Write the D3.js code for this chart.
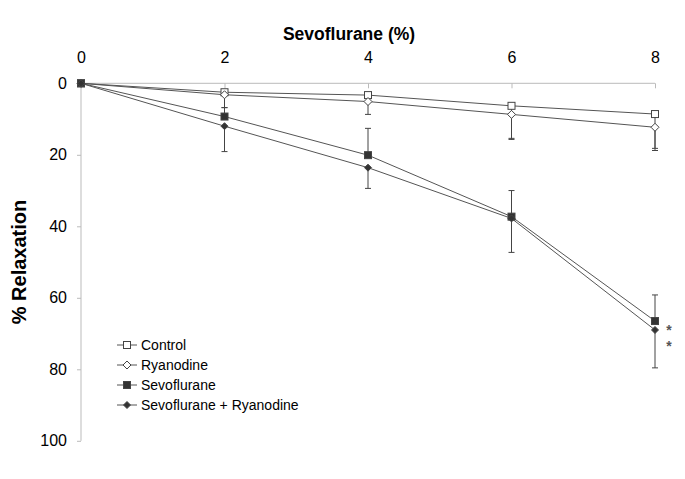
<!DOCTYPE html>
<html>
<head>
<meta charset="utf-8">
<script src="https://cdn.jsdelivr.net/npm/d3@7"></script>
<style>
  body { margin: 0; background: #fff; }
  svg { display: block; font-family: "Liberation Sans", Arial, sans-serif; }
</style>
</head>
<body>
<svg id="chart" width="685" height="479"></svg>
<script>
const doses = [0, 2, 4, 6, 8];
const xTicks = [0, 2, 4, 6, 8];
const yTicks = [0, 20, 40, 60, 80, 100];

const controlVals = [0, 2.5, 3.3, 6.3, 8.6];
const controlErr  = [0, 0, 0, 9.1, 9.6];
const ryanVals    = [0, 3.2, 5.1, 8.7, 12.3];
const ryanErr     = [0, 3.6, 3.6, 7.0, 6.5];
const sevoVals    = [0, 9.3, 20.1, 37.3, 66.5];
const sevoErr     = [0, 2.5, 7.5, 7.3, 7.3];
const sevoRyanVals = [0, 12.0, 23.6, 37.8, 69.0];
const sevoRyanErr  = [0, 7.1, 5.8, 9.5, 10.6];
const significance = ["*", "*"];

const seriesNames = ["Control", "Ryanodine", "Sevoflurane", "Sevoflurane + Ryanodine"];

const series = [
  { name: seriesNames[0], vals: controlVals, err: controlErr, dir: 1, shape: "square", fill: "#fff" },
  { name: seriesNames[1], vals: ryanVals, err: ryanErr, dir: 1, shape: "diamond", fill: "#fff" },
  { name: seriesNames[2], vals: sevoVals, err: sevoErr, dir: -1, shape: "square", fill: "#333" },
  { name: seriesNames[3], vals: sevoRyanVals, err: sevoRyanErr, dir: 1, shape: "diamond", fill: "#333" }
];

const svg = d3.select("#chart");
const x = d3.scaleLinear().domain([0, 8]).range([81, 655]);
const y = d3.scaleLinear().domain([0, 100]).range([83.3, 440.8]);

// X axis on top
const xAxis = svg.append("g").attr("transform", `translate(0,${y(0)})`)
  .call(d3.axisTop(x).tickValues(xTicks).tickSize(-5).tickPadding(20).tickFormat(d3.format("d")));
xAxis.select(".domain").attr("stroke", "#bbb").attr("d", `M${x(0)},0H${x(8)}`);
xAxis.selectAll(".tick line").attr("stroke", "#bbb");
xAxis.selectAll(".tick text").attr("font-size", 16).attr("fill", "#000")
  .attr("font-family", "Liberation Sans, Arial, sans-serif").attr("dy", "0");

// Y axis
const yAxis = svg.append("g").attr("transform", `translate(${x(0)},0)`)
  .call(d3.axisLeft(y).tickValues(yTicks).tickSize(4).tickPadding(10).tickFormat(d3.format("d")));
yAxis.select(".domain").attr("stroke", "#bbb").attr("d", `M0,${y(0)}V${y(100)}`);
yAxis.selectAll(".tick line").attr("stroke", "#bbb");
yAxis.selectAll(".tick text").attr("font-size", 16).attr("fill", "#000")
  .attr("font-family", "Liberation Sans, Arial, sans-serif");

// Titles
svg.append("text").attr("x", 349).attr("y", 40).attr("text-anchor", "middle")
  .attr("font-size", 17.5).attr("font-weight", "bold").text("Sevoflurane (%)");
svg.append("text").attr("transform", "translate(26,262) rotate(-90)").attr("text-anchor", "middle")
  .attr("font-size", 20).attr("font-weight", "bold").text("% Relaxation");

const line = d3.line().x((d, i) => x(doses[i])).y(d => y(d));

function marker(g, shape, cx, cy, fill, size) {
  if (shape === "square") {
    const s = size || 7;
    g.append("rect").attr("x", cx - s / 2).attr("y", cy - s / 2).attr("width", s).attr("height", s)
      .attr("fill", fill).attr("stroke", "#444").attr("stroke-width", 1);
  } else {
    const r = (size || 7) / 2 + 0.5;
    g.append("path").attr("d", `M${cx},${cy - r}L${cx + r},${cy}L${cx},${cy + r}L${cx - r},${cy}Z`)
      .attr("fill", fill).attr("stroke", "#444").attr("stroke-width", 1);
  }
}

// Error bars
series.forEach(s => {
  const g = svg.append("g");
  s.vals.forEach((v, i) => {
    if (!s.err[i]) return;
    const cx = x(doses[i]);
    const y1 = y(v), y2 = y(v + s.dir * s.err[i]);
    g.append("line").attr("x1", cx).attr("x2", cx).attr("y1", y1).attr("y2", y2)
      .attr("stroke", "#444").attr("stroke-width", 1);
    g.append("line").attr("x1", cx - 3).attr("x2", cx + 3).attr("y1", y2).attr("y2", y2)
      .attr("stroke", "#444").attr("stroke-width", 1);
  });
});

// Lines
series.forEach(s => {
  svg.append("path").datum(s.vals).attr("d", line).attr("fill", "none")
    .attr("stroke", "#555").attr("stroke-width", 1);
});

// Markers
series.forEach(s => {
  const g = svg.append("g");
  s.vals.forEach((v, i) => marker(g, s.shape, x(doses[i]), y(v), s.fill, s.fill === "#333" && s.shape === "diamond" ? 6 : 7));
});

// Asterisks
significance.forEach((t, i) => {
  svg.append("text").attr("x", 669).attr("y", 335 + i * 16).attr("font-size", 14)
    .attr("font-weight", "bold").attr("text-anchor", "middle").attr("fill", "#555").text(t);
});

// Legend
const lg = svg.append("g");
series.forEach((s, i) => {
  const yy = 345 + i * 20;
  lg.append("line").attr("x1", 117).attr("x2", 137).attr("y1", yy).attr("y2", yy)
    .attr("stroke", "#555").attr("stroke-width", 1);
  marker(lg, s.shape, 127, yy, s.fill, s.fill === "#333" && s.shape === "diamond" ? 6 : 7);
  lg.append("text").attr("x", 141).attr("y", yy + 5).attr("font-size", 14).text(s.name);
});
</script>
</body>
</html>
